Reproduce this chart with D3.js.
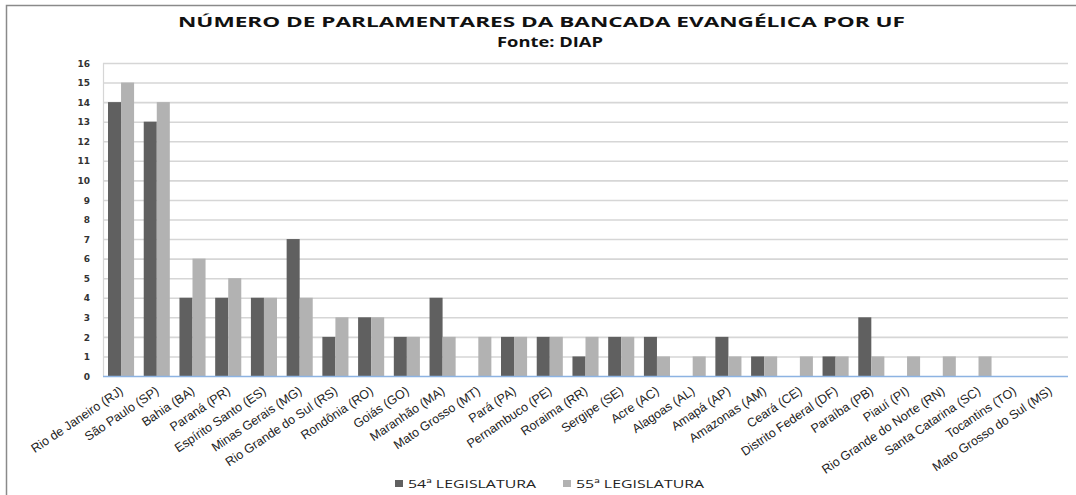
<!DOCTYPE html>
<html><head><meta charset="utf-8">
<script src="https://cdn.jsdelivr.net/npm/d3@7/dist/d3.min.js"></script>
<style>body{margin:0;background:#fff}svg{display:block}</style>
</head><body>
<svg id="c" width="1076" height="495"></svg>
<script>
const categories = ["Rio de Janeiro (RJ)","São Paulo (SP)","Bahia (BA)","Paraná (PR)","Espírito Santo (ES)","Minas Gerais (MG)","Rio Grande do Sul (RS)","Rondônia (RO)","Goiás (GO)","Maranhão (MA)","Mato Grosso (MT)","Pará (PA)","Pernambuco (PE)","Roraima (RR)","Sergipe (SE)","Acre (AC)","Alagoas (AL)","Amapá (AP)","Amazonas (AM)","Ceará (CE)","Distrito Federal (DF)","Paraíba (PB)","Piauí (PI)","Rio Grande do Norte (RN)","Santa Catarina (SC)","Tocantins (TO)","Mato Grosso do Sul (MS)"];
const leg54 = [14,13,4,4,4,7,2,3,2,4,0,2,2,1,2,2,0,2,1,0,1,3,0,0,0,0,0];
const leg55 = [15,14,6,5,4,4,3,3,2,2,2,2,2,2,2,1,1,1,1,1,1,1,1,1,1,0,0];
const seriesNames = ["54ª LEGISLATURA","55ª LEGISLATURA"];
const yTicks = d3.range(0,17);
const titleLines = ["NÚMERO DE PARLAMENTARES DA BANCADA EVANGÉLICA POR UF","Fonte: DIAP"];

const colors = ["#606060","#b2b2b2"];
const svg = d3.select("#c");
// outer chart border
svg.append("rect").attr("x",6.5).attr("y",5.5).attr("width",1100).attr("height",520)
  .attr("fill","none").attr("stroke","#8a8a8a").attr("stroke-width",1.5);

const L=103, R=1068, T=63, B=376;
const x = d3.scaleBand().domain(categories).range([L,R]).paddingInner(0.27).paddingOuter(0.14);
const xs = d3.scaleBand().domain([0,1]).range([0,x.bandwidth()]);
const y = d3.scaleLinear().domain([0,16]).range([B,T]);

// gridlines
svg.append("g").selectAll("line").data(yTicks.filter(d=>d>0)).join("line")
  .attr("x1",L).attr("x2",R).attr("y1",d=>y(d)+0.5).attr("y2",d=>y(d)+0.5)
  .attr("stroke","#d6d6d6").attr("stroke-width",1.6);
svg.append("line").attr("x1",L+0.5).attr("x2",L+0.5).attr("y1",T).attr("y2",B)
  .attr("stroke","#d6d6d6").attr("stroke-width",1.2);

// y axis
const ya = svg.append("g").attr("transform",`translate(${L-13},0)`)
  .call(d3.axisLeft(y).tickValues(yTicks).tickSize(0).tickPadding(0));
ya.select(".domain").remove();
ya.selectAll("text").attr("font-family","Verdana, DejaVu Sans, sans-serif").attr("font-size",9)
  .attr("fill","#333").attr("font-weight","bold").attr("dy","0.35em");

// bars
const data = categories.map((c,i)=>({c, v:[leg54[i],leg55[i]]}));
const g = svg.append("g").selectAll("g").data(data).join("g")
  .attr("transform",d=>`translate(${x(d.c)},0)`);
g.selectAll("rect").data(d=>d.v.map((v,k)=>({v,k}))).join("rect")
  .attr("x",d=>xs(d.k)).attr("width",xs.bandwidth())
  .attr("y",d=>y(d.v)).attr("height",d=>B-y(d.v))
  .attr("fill",d=>colors[d.k]);

// baseline
svg.append("line").attr("x1",L).attr("x2",R).attr("y1",B+0.5).attr("y2",B+0.5)
  .attr("stroke","#8db3e2").attr("stroke-width",1.3);

// x axis labels
const xa = svg.append("g").attr("transform",`translate(0,${B})`)
  .call(d3.axisBottom(x).tickSize(0).tickPadding(0));
xa.select(".domain").remove();
xa.selectAll("text").attr("font-family","Liberation Sans, Arial, sans-serif").attr("font-size",12.5)
  .attr("fill","#222").attr("text-anchor","end").attr("dy",0)
  .attr("transform","translate(3,17) rotate(-34)");

// title
svg.append("text").attr("x",541.5).attr("y",27).attr("text-anchor","middle")
  .attr("font-family","Open Sans, sans-serif").attr("font-weight","bold").attr("fill","#111")
  .attr("font-size",14.5).attr("textLength",727).attr("lengthAdjust","spacingAndGlyphs").text(titleLines[0]);
svg.append("text").attr("x",550).attr("y",46.5).attr("text-anchor","middle")
  .attr("font-family","Open Sans, sans-serif").attr("font-weight","bold").attr("fill","#111")
  .attr("font-size",14.5).attr("textLength",106).attr("lengthAdjust","spacingAndGlyphs").text(titleLines[1]);

// legend
const lg = svg.append("g").selectAll("g").data(seriesNames).join("g")
  .attr("transform",(d,i)=>`translate(${[395,563][i]},488)`);
lg.append("rect").attr("x",0).attr("y",-8).attr("width",8).attr("height",7).attr("fill",(d,i)=>colors[i]);
lg.append("text").attr("x",13).attr("y",0).attr("font-family","Open Sans, sans-serif").attr("font-size",11)
  .attr("textLength",128).attr("lengthAdjust","spacingAndGlyphs")
  .attr("fill","#222").text(d=>d);
</script>
</body></html>
